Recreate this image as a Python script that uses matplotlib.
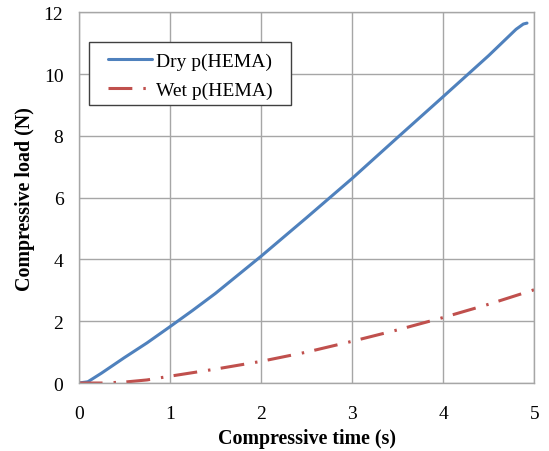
import matplotlib
matplotlib.use("Agg")
import matplotlib.pyplot as plt
from matplotlib.patches import Rectangle

dry_time = [0, 0.1, 0.25, 0.5, 0.75, 1.0, 1.25, 1.5, 1.75, 2.0, 2.5, 3.0, 3.5, 4.0, 4.5, 4.8, 4.88, 4.92]
dry_load = [0, 0.04, 0.32, 0.82, 1.3, 1.82, 2.35, 2.9, 3.5, 4.1, 5.35, 6.62, 7.95, 9.27, 10.6, 11.45, 11.62, 11.65]
wet_time = [0, 0.25, 0.5, 0.75, 1.0, 1.5, 2.0, 2.5, 3.0, 3.5, 4.0, 4.5, 5.0]
wet_load = [0, 0.0, 0.03, 0.1, 0.22, 0.45, 0.7, 1.0, 1.35, 1.72, 2.12, 2.55, 3.02]
x_ticks = [0, 1, 2, 3, 4, 5]
y_ticks = [0, 2, 4, 6, 8, 10, 12]

plt.rcParams['font.family'] = ['Liberation Serif', 'DejaVu Serif']

fig = plt.figure(figsize=(5.49, 4.52), dpi=100)
ax = fig.add_axes([0.1434, 0.1504, 0.9732 - 0.1434, 0.9706 - 0.1504])

ax.plot(dry_time, dry_load, color='#4F81BD', lw=2.2, label='Dry p(HEMA)', solid_capstyle='round')
ax.plot(wet_time, wet_load, color='#C0504D', lw=2.2, dashes=(7.8, 3.6, 0.8, 3.4), label='Wet p(HEMA)')

ax.set_xlim(0, 5)
ax.set_ylim(0, 12)
ax.set_xticks(x_ticks)
ax.set_yticks(y_ticks)
ax.grid(True, color='#A6A6A6', lw=1.0)
ax.set_axisbelow(True)
for s in ax.spines.values():
    s.set_color('#A6A6A6')
    s.set_linewidth(1.0)
ax.tick_params(length=0, labelsize=14)
ax.tick_params(axis='x', pad=16)
ax.tick_params(axis='y', pad=11)

ax.set_xlabel('Compressive time (s)', fontsize=14.4, fontweight='bold', labelpad=4)
ax.set_ylabel('Compressive load (N)', fontsize=14.4, fontweight='bold', labelpad=6)

# legend frame
ax.add_patch(Rectangle((0.0233, 0.750), 0.4653 - 0.0233, 0.9207 - 0.750,
                       transform=ax.transAxes, facecolor='white', edgecolor='#404040',
                       lw=1.0, zorder=4))
leg = ax.legend(loc='upper left', bbox_to_anchor=(0.0643, 0.8915), fontsize=14,
                frameon=False, handlelength=2.27, borderpad=0, labelspacing=0.59,
                handletextpad=0.2, borderaxespad=0)
leg.set_zorder(5)

fig.savefig('out.png', dpi=100)
